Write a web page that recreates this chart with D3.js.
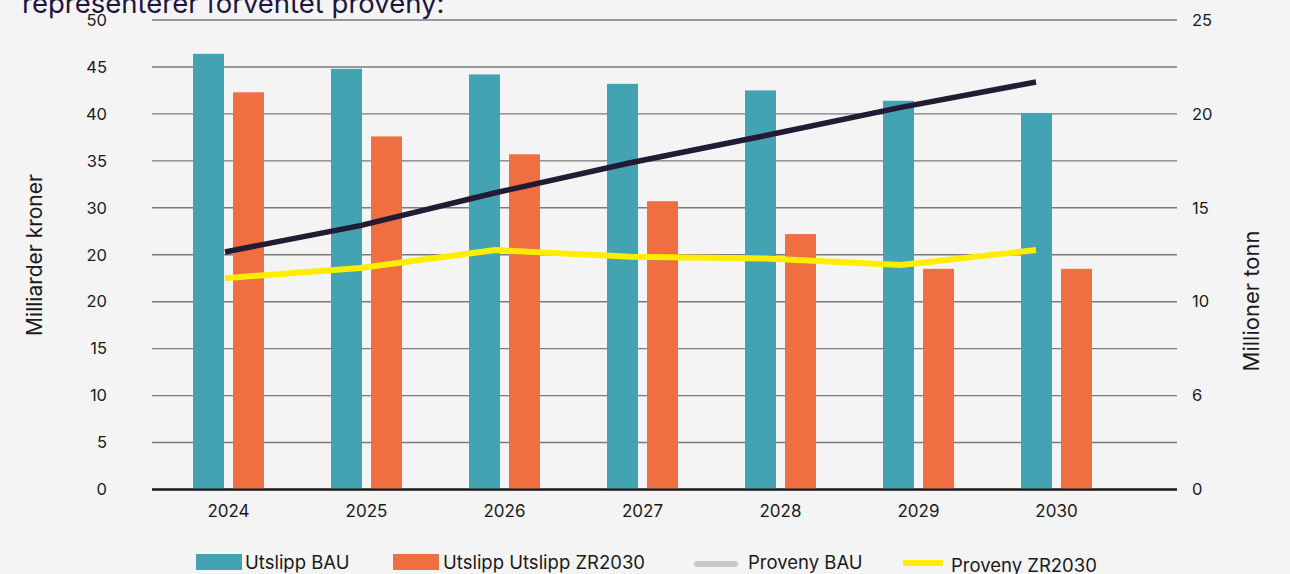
<!DOCTYPE html>
<html><head><meta charset="utf-8">
<script src="https://cdn.jsdelivr.net/npm/d3@7"></script>
<style>
html,body{margin:0;padding:0;background:#f4f4f4;}
svg{display:block;font-family:"Inter","Noto Sans",sans-serif;}
</style></head>
<body>
<svg id="c" width="1290" height="574"></svg>
<script>
const years = ["2024","2025","2026","2027","2028","2029","2030"];
const utslippBAU = [46.4, 44.8, 44.2, 43.2, 42.5, 41.4, 40.1];
const utslippZR = [42.3, 37.6, 35.7, 30.7, 27.2, 23.5, 23.5];
const provenyBAU = [25.3, 28.1, 31.6, 34.8, 37.7, 40.7, 43.4];
const provenyZR = [22.5, 23.6, 25.5, 24.8, 24.6, 23.9, 25.5];
const leftTicks = [0,5,10,15,20,25,30,35,40,45,50];
const leftTickLabels = ["0","5","10","15","20","20","30","35","40","45","50"];
const rightTicks = [0,5,10,15,20,25];
const rightTickLabels = ["0","6","10","15","20","25"];
const seriesNames = ["Utslipp BAU","Utslipp Utslipp ZR2030","Proveny BAU","Proveny ZR2030"];
const colors = {bau:"#44a3b2", zr:"#ef6f43", lineBau:"#231a33", lineZr:"#ffed00", legendGray:"#c8c8c8"};

const svg = d3.select("#c");
const y = d3.scaleLinear().domain([0,50]).range([489.5,20]);
const yR = d3.scaleLinear().domain([0,25]).range([489.5,20]);
const x = d3.scaleBand().domain(years).range([159.5,1125.5]).padding(0);
const xLine = d3.scalePoint().domain(years).range([225,1036]);

// title (clipped at top)
svg.append("text").attr("x",22).attr("y",13).attr("fill","#1e1540")
  .attr("font-size",27.5).text("representerer forventet proveny:");

// gridlines
svg.append("g").selectAll("line").data(leftTicks).join("line")
  .attr("x1",152).attr("x2",1177)
  .attr("y1",d=>y(d)).attr("y2",d=>y(d))
  .attr("stroke",d=>d===0?"#1a1a1a":"#7a7a7a")
  .attr("stroke-width",d=>d===0?2:1.4);

// left tick labels
svg.append("g").selectAll("text").data(leftTicks).join("text")
  .attr("x",107).attr("y",d=>y(d)).attr("dy","0.35em")
  .attr("text-anchor","end").attr("font-size",16.5).attr("fill","#1a1a1a")
  .text((d,i)=>leftTickLabels[i]);

// right tick labels
svg.append("g").selectAll("text").data(rightTicks).join("text")
  .attr("x",1192).attr("y",d=>yR(d)).attr("dy","0.35em")
  .attr("text-anchor","start").attr("font-size",16.5).attr("fill","#1a1a1a")
  .text((d,i)=>rightTickLabels[i]);

// axis titles
svg.append("text").attr("transform","translate(42,255) rotate(-90)")
  .attr("text-anchor","middle").attr("font-size",21).attr("fill","#1a1a1a").text("Milliarder kroner");
svg.append("text").attr("transform","translate(1259,301) rotate(-90)")
  .attr("text-anchor","middle").attr("font-size",22).attr("fill","#1a1a1a").text("Millioner tonn");

// bars
const bw = 31, gap = 9;
const g = svg.append("g");
g.selectAll("rect.b").data(years).join("rect").attr("class","b")
  .attr("x",d=>x(d)+x.bandwidth()/2 - gap/2 - bw)
  .attr("width",bw)
  .attr("y",(d,i)=>y(utslippBAU[i]))
  .attr("height",(d,i)=>y(0)-y(utslippBAU[i]))
  .attr("fill",colors.bau);
g.selectAll("rect.z").data(years).join("rect").attr("class","z")
  .attr("x",d=>x(d)+x.bandwidth()/2 + gap/2)
  .attr("width",bw)
  .attr("y",(d,i)=>y(utslippZR[i]))
  .attr("height",(d,i)=>y(0)-y(utslippZR[i]))
  .attr("fill",colors.zr);

// redraw zero axis over bars
svg.append("line").attr("x1",152).attr("x2",1177).attr("y1",y(0)).attr("y2",y(0))
  .attr("stroke","#1a1a1a").attr("stroke-width",2);

// lines
const line = d3.line().x((d,i)=>xLine(years[i])).y(d=>y(d));
svg.append("path").datum(provenyZR).attr("d",line).attr("fill","none")
  .attr("stroke",colors.lineZr).attr("stroke-width",6);
svg.append("path").datum(provenyBAU).attr("d",line).attr("fill","none")
  .attr("stroke",colors.lineBau).attr("stroke-width",5.5);

// x labels
svg.append("g").selectAll("text").data(years).join("text")
  .attr("x",d=>x(d)+x.bandwidth()/2).attr("y",517)
  .attr("text-anchor","middle").attr("font-size",17).attr("fill","#1a1a1a").text(d=>d);

// legend
const lg = svg.append("g");
lg.append("rect").attr("x",196).attr("y",554).attr("width",46).attr("height",16).attr("fill",colors.bau);
lg.append("text").attr("x",245).attr("y",569).attr("font-size",18.5).attr("fill","#1a1a1a").text(seriesNames[0]);
lg.append("rect").attr("x",393).attr("y",554).attr("width",46).attr("height",16).attr("fill",colors.zr);
lg.append("text").attr("x",443).attr("y",569).attr("font-size",18.5).attr("fill","#1a1a1a").text(seriesNames[1]);
lg.append("line").attr("x1",697).attr("x2",735).attr("y1",564).attr("y2",564)
  .attr("stroke",colors.legendGray).attr("stroke-width",6).attr("stroke-linecap","round");
lg.append("text").attr("x",748).attr("y",569).attr("font-size",18.5).attr("fill","#1a1a1a").text(seriesNames[2]);
lg.append("line").attr("x1",903).attr("x2",943).attr("y1",563).attr("y2",563)
  .attr("stroke",colors.lineZr).attr("stroke-width",6);
lg.append("text").attr("x",951).attr("y",572).attr("font-size",18.5).attr("fill","#1a1a1a").text(seriesNames[3]);
</script>
</body></html>
